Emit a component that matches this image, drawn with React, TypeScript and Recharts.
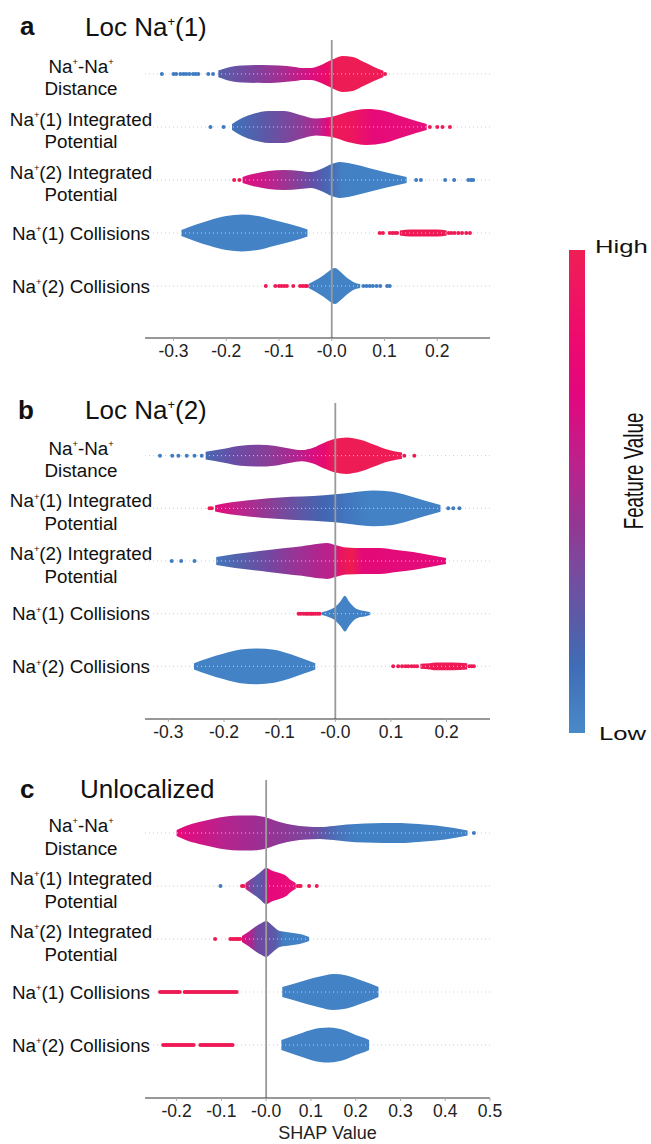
import React from "react";
import { ComposedChart, Area, Scatter, XAxis, YAxis, ReferenceLine } from "recharts";

// ---------- data ----------
const FEATURE_LABELS = [
  "Na⁺-Na⁺\nDistance",
  "Na⁺(1) Integrated\nPotential",
  "Na⁺(2) Integrated\nPotential",
  "Na⁺(1) Collisions",
  "Na⁺(2) Collisions",
];
const ROWS = [0, 1, 2, 3, 4];

const aTicks = [-0.3, -0.2, -0.1, 0, 0.1, 0.2];
const aTickLabels = ["-0.3", "-0.2", "-0.1", "-0.0", "0.1", "0.2"];
const bTicks = [-0.3, -0.2, -0.1, 0, 0.1, 0.2];
const bTickLabels = ["-0.3", "-0.2", "-0.1", "-0.0", "0.1", "0.2"];
const cTicks = [-0.2, -0.1, 0, 0.1, 0.2, 0.3, 0.4, 0.5];
const cTickLabels = ["-0.2", "-0.1", "-0.0", "0.1", "0.2", "0.3", "0.4", "0.5"];
const X_LABEL = "SHAP Value";

// violin shapes: [shap value, relative density]
const a1Shape = [[-0.215,0.19],[-0.2,0.33],[-0.17,0.47],[-0.13,0.5],[-0.1,0.47],[-0.07,0.39],[-0.055,0.33],[-0.04,0.33],[-0.02,0.5],[0,0.78],[0.02,1.0],[0.04,0.94],[0.06,0.67],[0.08,0.39],[0.098,0.17]];
const a1Colors = [[-0.215,"#5560AA"],[-0.15,"#7A449E"],[-0.09,"#A82C90"],[-0.04,"#D81080"],[-0.01,"#EA0C68"],[0.01,"#EE1C55"],[0.098,"#EE1C55"]];
const a2Shape = [[-0.189,0.17],[-0.17,0.5],[-0.15,0.72],[-0.12,0.89],[-0.09,0.89],[-0.06,0.67],[-0.03,0.47],[0,0.56],[0.03,0.83],[0.066,1.0],[0.1,0.89],[0.13,0.61],[0.16,0.33],[0.18,0.17]];
const a2Colors = [[-0.189,"#3F72BA"],[-0.13,"#5A5AA8"],[-0.06,"#8A3E98"],[-0.025,"#B42690"],[-0.01,"#DD0C7E"],[0.005,"#EE1A58"],[0.04,"#EC1560"],[0.08,"#E60A78"],[0.18,"#E6107A"]];
const a3Shape = [[-0.169,0.17],[-0.15,0.33],[-0.12,0.5],[-0.09,0.56],[-0.06,0.5],[-0.04,0.44],[-0.02,0.61],[0,0.89],[0.015,1.0],[0.04,0.89],[0.07,0.67],[0.1,0.44],[0.125,0.28],[0.142,0.17]];
const a3Colors = [[-0.169,"#E00E7E"],[-0.12,"#C0208A"],[-0.07,"#8A3E98"],[-0.035,"#6050A8"],[-0.01,"#4A66B2"],[0.02,"#4280C4"],[0.142,"#4283C6"]];
const a4Shape = [[-0.285,0.17],[-0.26,0.44],[-0.23,0.72],[-0.2,0.94],[-0.17,1.02],[-0.14,0.94],[-0.11,0.72],[-0.08,0.5],[-0.06,0.33],[-0.046,0.2]];
const a4BandShape = [[0.129,0.14],[0.15,0.2],[0.2,0.2],[0.218,0.14]];
const a5Shape = [[-0.044,0.11],[-0.03,0.33],[-0.015,0.61],[-0.005,0.83],[0.006,1.0],[0.015,0.83],[0.025,0.56],[0.035,0.33],[0.045,0.17],[0.054,0.11]];

const b1Shape = [[-0.233,0.22],[-0.2,0.39],[-0.17,0.56],[-0.137,0.61],[-0.11,0.56],[-0.08,0.39],[-0.06,0.31],[-0.04,0.44],[-0.02,0.72],[0,0.94],[0.02,1.02],[0.045,0.89],[0.07,0.61],[0.095,0.33],[0.12,0.17]];
const b1Colors = [[-0.233,"#4A68B2"],[-0.18,"#6A4CA4"],[-0.12,"#8A3E98"],[-0.07,"#B0248E"],[-0.04,"#D8107E"],[-0.02,"#E60C70"],[0,"#EE1C55"],[0.12,"#EE1C55"]];
const b2Shape = [[-0.216,0.17],[-0.19,0.33],[-0.16,0.44],[-0.12,0.56],[-0.08,0.64],[-0.04,0.69],[0,0.78],[0.03,0.89],[0.068,1.0],[0.1,0.94],[0.13,0.72],[0.16,0.44],[0.189,0.19]];
const b2Colors = [[-0.216,"#E50A78"],[-0.18,"#C52088"],[-0.12,"#8E3C95"],[-0.06,"#5C58A6"],[-0.02,"#4266B2"],[0.02,"#4276BE"],[0.06,"#4282C5"],[0.189,"#4282C5"]];
const b3Shape = [[-0.214,0.22],[-0.18,0.39],[-0.15,0.5],[-0.12,0.61],[-0.09,0.72],[-0.06,0.83],[-0.03,0.97],[-0.015,1.0],[0,0.89],[0.02,0.75],[0.05,0.72],[0.08,0.72],[0.11,0.61],[0.14,0.5],[0.17,0.33],[0.199,0.17]];
const b3Colors = [[-0.214,"#4576BC"],[-0.17,"#5560AA"],[-0.12,"#7248A0"],[-0.07,"#9A3396"],[-0.03,"#B0268E"],[0,"#C41E88"],[0.008,"#E81463"],[0.03,"#EE1C50"],[0.048,"#E30A78"],[0.199,"#E30A7B"]];
const b4Shape = [[-0.024,0.08],[-0.01,0.22],[0,0.39],[0.01,0.72],[0.017,1.0],[0.025,0.67],[0.035,0.33],[0.045,0.19],[0.055,0.14],[0.063,0.08]];
const b5Shape = [[-0.254,0.17],[-0.23,0.44],[-0.2,0.72],[-0.17,0.94],[-0.14,1.0],[-0.11,0.92],[-0.08,0.67],[-0.055,0.39],[-0.036,0.17]];
const b5BandShape = [[0.153,0.14],[0.17,0.17],[0.18,0.22],[0.21,0.22],[0.237,0.17]];

const c1Shape = [[-0.2,0.17],[-0.18,0.39],[-0.15,0.61],[-0.12,0.78],[-0.09,0.92],[-0.06,0.97],[-0.03,0.97],[0,0.86],[0.03,0.61],[0.06,0.44],[0.09,0.36],[0.12,0.33],[0.15,0.39],[0.18,0.47],[0.22,0.53],[0.26,0.56],[0.3,0.56],[0.34,0.5],[0.38,0.42],[0.42,0.28],[0.45,0.14]];
const c1Colors = [[-0.2,"#E8087A"],[-0.15,"#CF1585"],[-0.09,"#B4248E"],[-0.03,"#A02C92"],[0.05,"#8A3C98"],[0.1,"#7A489F"],[0.13,"#5A5CAA"],[0.16,"#4A72BA"],[0.2,"#4280C4"],[0.45,"#4282C5"]];
const c2Shape = [[-0.046,0.17],[-0.03,0.44],[-0.015,0.72],[0,1.0],[0.015,0.83],[0.03,0.72],[0.045,0.56],[0.055,0.33],[0.066,0.17]];
const c2Colors = [[-0.046,"#D01880"],[-0.035,"#7A48A0"],[-0.02,"#5A5AAA"],[-0.005,"#6A4EA4"],[0.003,"#D8127E"],[0.01,"#E6087A"],[0.066,"#E8107A"]];
const c3Shape = [[-0.054,0.17],[-0.04,0.39],[-0.025,0.67],[-0.01,0.89],[0,1.0],[0.01,0.83],[0.02,0.61],[0.03,0.44],[0.045,0.39],[0.06,0.33],[0.075,0.28],[0.09,0.17],[0.096,0.11]];
const c3Colors = [[-0.054,"#E00A7E"],[-0.035,"#B0248E"],[-0.02,"#7048A0"],[0,"#6A4EA4"],[0.02,"#5A5AA8"],[0.04,"#4280C4"],[0.096,"#4282C5"]];
const c4Shape = [[0.036,0.28],[0.06,0.44],[0.09,0.67],[0.12,0.86],[0.15,1.0],[0.18,0.92],[0.21,0.67],[0.235,0.44],[0.251,0.28]];
const c5Shape = [[0.034,0.28],[0.06,0.5],[0.08,0.67],[0.1,0.83],[0.12,0.94],[0.14,0.97],[0.16,0.92],[0.18,0.78],[0.2,0.56],[0.22,0.39],[0.23,0.28]];

// outlying points: [row, shap value]
const aDotsLow = [[0,-0.322],[0,-0.3],[0,-0.295],[0,-0.287],[0,-0.281],[0,-0.276],[0,-0.27],[0,-0.263],[0,-0.258],[0,-0.253],[0,-0.234],[0,-0.225],[1,-0.23],[1,-0.205],[2,0.16],[2,0.169],[2,0.215],[2,0.232],[2,0.259],[2,0.264],[2,0.268],[4,0.06],[4,0.066],[4,0.072],[4,0.078],[4,0.085],[4,0.092],[4,0.105],[4,0.11]];
const aDotsHigh = [[0,0.101],[1,0.186],[1,0.2],[1,0.21],[1,0.224],[2,-0.185],[2,-0.175],[3,0.091],[3,0.097],[3,0.11],[3,0.115],[3,0.12],[3,0.124],[3,0.222],[3,0.227],[3,0.233],[3,0.24],[3,0.247],[3,0.255],[3,0.262],[4,-0.125],[4,-0.107],[4,-0.1],[4,-0.095],[4,-0.09],[4,-0.085],[4,-0.073],[4,-0.06],[4,-0.055],[4,-0.05],[4,-0.047]];
const bDotsLow = [[0,-0.315],[0,-0.293],[0,-0.282],[0,-0.267],[0,-0.253],[0,-0.24],[1,0.203],[1,0.212],[1,0.223],[2,-0.294],[2,-0.277],[2,-0.253]];
const bDotsHigh = [[0,0.124],[0,0.142],[1,-0.226],[1,-0.222],[3,-0.066],[3,-0.062],[3,-0.057],[3,-0.053],[3,-0.05],[3,-0.046],[3,-0.043],[3,-0.04],[3,-0.036],[3,-0.032],[3,-0.028],[4,0.104],[4,0.113],[4,0.12],[4,0.126],[4,0.131],[4,0.137],[4,0.142],[4,0.147],[4,0.241],[4,0.245],[4,0.249]];
const cDotsLow = [[0,0.464],[1,-0.102]];
const cDotsHigh = [[1,-0.054],[1,-0.05],[1,0.07],[1,0.074],[1,0.077],[1,0.096],[1,0.113],[2,-0.114],[2,-0.08],[2,-0.075],[2,-0.07],[2,-0.066],[2,-0.062],[2,-0.058],
  [3,-0.237],[3,-0.233],[3,-0.229],[3,-0.225],[3,-0.221],[3,-0.217],[3,-0.213],[3,-0.209],[3,-0.205],[3,-0.201],[3,-0.197],[3,-0.193],[3,-0.182],[3,-0.178],[3,-0.174],[3,-0.17],[3,-0.166],[3,-0.162],[3,-0.158],[3,-0.154],[3,-0.15],[3,-0.146],[3,-0.142],[3,-0.138],[3,-0.134],[3,-0.13],[3,-0.126],[3,-0.122],[3,-0.118],[3,-0.114],[3,-0.11],[3,-0.106],[3,-0.102],[3,-0.098],[3,-0.094],[3,-0.09],[3,-0.086],[3,-0.082],[3,-0.078],[3,-0.074],[3,-0.07],[3,-0.066],
  [4,-0.23],[4,-0.226],[4,-0.222],[4,-0.218],[4,-0.214],[4,-0.21],[4,-0.206],[4,-0.202],[4,-0.198],[4,-0.194],[4,-0.19],[4,-0.186],[4,-0.182],[4,-0.178],[4,-0.174],[4,-0.17],[4,-0.166],[4,-0.162],[4,-0.147],[4,-0.143],[4,-0.139],[4,-0.135],[4,-0.131],[4,-0.127],[4,-0.123],[4,-0.119],[4,-0.115],[4,-0.111],[4,-0.107],[4,-0.103],[4,-0.099],[4,-0.095],[4,-0.091],[4,-0.087],[4,-0.083],[4,-0.079],[4,-0.075]];

const colorbarStops = [[0,"#EF1F55"],[0.18,"#EE0A6E"],[0.3,"#E2077E"],[0.45,"#BA238D"],[0.56,"#963593"],[0.66,"#7A4A9E"],[0.76,"#5C5AA6"],[0.86,"#3F6CB6"],[1,"#4A8AC8"]];

// ---------- styling ----------
const FONT = "'Liberation Sans', Arial, Helvetica, sans-serif";
const LOW = "#3F7CC2";
const HIGH = "#EE1A55";
const HALF = 0.34; // row units per unit of density
const LABEL_CX = 81;

const violin = (row: number, shape: number[][], colors: any[] | string) => ({ row, shape, colors });

const aViolins = [violin(0,a1Shape,a1Colors),violin(1,a2Shape,a2Colors),violin(2,a3Shape,a3Colors),violin(3,a4Shape,"#4282C5"),violin(3,a4BandShape,HIGH),violin(4,a5Shape,"#4282C5")];
const bViolins = [violin(0,b1Shape,b1Colors),violin(1,b2Shape,b2Colors),violin(2,b3Shape,b3Colors),violin(3,b4Shape,"#4282C5"),violin(4,b5Shape,"#4282C5"),violin(4,b5BandShape,HIGH)];
const cViolins = [violin(0,c1Shape,c1Colors),violin(1,c2Shape,c2Colors),violin(2,c3Shape,c3Colors),violin(3,c4Shape,"#4282C5"),violin(4,c5Shape,"#4282C5")];

function rich(s: string, fs: number) {
  const parts = s.split("⁺");
  const sh = fs * 0.4;
  const out: any[] = [];
  parts.forEach((p, i) => {
    if (i === 0) { out.push(<tspan key={"p" + i}>{p}</tspan>); return; }
    out.push(<tspan key={"s" + i} dy={-sh} fontSize={fs * 0.5}>+</tspan>);
    out.push(<tspan key={"p" + i} dy={sh}>{p}</tspan>);
  });
  return out;
}

const FS_LABEL = 18.8;
function FeatureTick(props: any) {
  const { y, payload } = props;
  const lines = FEATURE_LABELS[payload.value].split("\n");
  const common = { x: LABEL_CX, textAnchor: "middle" as const, fontSize: FS_LABEL, fontFamily: FONT, fill: "#111" };
  if (lines.length === 1) {
    return <text {...common} y={y + 6.8}>{rich(lines[0], FS_LABEL)}</text>;
  }
  return (
    <g>
      <text {...common} y={y - 1}>{rich(lines[0], FS_LABEL)}</text>
      <text {...common} y={y + 21.5}>{rich(lines[1], FS_LABEL)}</text>
    </g>
  );
}

function dotShape(color: string) {
  return (p: any) => <circle cx={p.cx} cy={p.cy} r={2} fill={color} />;
}

function Panel(props: any) {
  const { id, top, height, marginTop, xDomain, ticks, tickLabels, yDomain, violins, dotsLow, dotsHigh, axisHeight, xLabel } = props;
  return (
    <div style={{ position: "absolute", left: 0, top }}>
      <ComposedChart width={530} height={height} margin={{ top: marginTop, right: 40, bottom: 0, left: 0 }}>
        <defs>
          {violins.map((v: any, i: number) => {
            const x0 = v.shape[0][0];
            const x1 = v.shape[v.shape.length - 1][0];
            const stops = typeof v.colors === "string" ? [[x0, v.colors], [x1, v.colors]] : v.colors;
            return (
              <linearGradient key={i} id={`${id}-g${i}`} x1="0" y1="0" x2="1" y2="0">
                {stops.map((s: any, j: number) => (
                  <stop key={j} offset={Math.max(0, Math.min(1, (s[0] - x0) / (x1 - x0)))} stopColor={s[1]} />
                ))}
              </linearGradient>
            );
          })}
        </defs>
        <XAxis
          type="number"
          dataKey="x"
          domain={xDomain}
          allowDataOverflow
          ticks={ticks}
          interval={0}
          tickFormatter={(v: number) => tickLabels[ticks.indexOf(v)]}
          height={axisHeight}
          tickSize={3}
          tickMargin={4}
          axisLine={{ stroke: "#333", strokeWidth: 1.2 }}
          tickLine={{ stroke: "#aaa" }}
          tick={{ fontSize: 17.5, fill: "#222", fontFamily: FONT }}
          label={xLabel ? {
            content: (lp: any) => {
              const vb = lp.viewBox || {};
              return (
                <text x={vb.x + vb.width / 2 + 10} y={vb.y + 41} textAnchor="middle" fontSize={18} fill="#222" fontFamily={FONT}>{xLabel}</text>
              );
            },
          } : undefined}
        />
        <YAxis
          type="number"
          dataKey="y"
          domain={yDomain}
          allowDataOverflow
          reversed
          ticks={ROWS}
          interval={0}
          width={145}
          axisLine={false}
          tickLine={false}
          tick={(p: any) => <FeatureTick {...p} />}
        />
        {ROWS.map((r) => (
          <ReferenceLine key={"g" + r} y={r} stroke="#cfcfcf" strokeDasharray="1 3" strokeWidth={1} />
        ))}
        {violins.map((v: any, i: number) => (
          <Area
            key={"v" + i}
            data={v.shape.map((p: number[]) => ({ x: p[0], range: [v.row - p[1] * HALF, v.row + p[1] * HALF] }))}
            dataKey="range"
            type="monotone"
            stroke="none"
            fill={`url(#${id}-g${i})`}
            fillOpacity={1}
            dot={false}
            activeDot={false}
            isAnimationActive={false}
          />
        ))}
        <Scatter data={dotsLow.map((d: number[]) => ({ x: d[1], y: d[0] }))} shape={dotShape(LOW)} isAnimationActive={false} />
        <Scatter data={dotsHigh.map((d: number[]) => ({ x: d[1], y: d[0] }))} shape={dotShape(HIGH)} isAnimationActive={false} />
        <ReferenceLine x={0} stroke="#9a9a9a" strokeWidth={1.8} />
      </ComposedChart>
    </div>
  );
}

function Titles() {
  const t = { fontFamily: FONT, fontSize: 26, fill: "#111" };
  return (
    <svg width={651} height={1144} style={{ position: "absolute", left: 0, top: 0 }}>
      <text {...t} x={20} y={35} fontWeight="bold">a</text>
      <text {...t} x={85} y={36}>{rich("Loc Na⁺(1)", 26)}</text>
      <text {...t} x={18} y={419} fontWeight="bold">b</text>
      <text {...t} x={85} y={419}>{rich("Loc Na⁺(2)", 26)}</text>
      <text {...t} x={20} y={798} fontWeight="bold">c</text>
      <text {...t} x={80} y={798}>Unlocalized</text>
      <defs>
        <linearGradient id="cbar" x1="0" y1="0" x2="0" y2="1">
          {colorbarStops.map((s: any, i) => <stop key={i} offset={s[0]} stopColor={s[1]} />)}
        </linearGradient>
      </defs>
      <rect x={569} y={250} width={16} height={483} fill="url(#cbar)" />
      <text transform="translate(595,253) scale(1.38,1)" fontFamily={FONT} fontSize={18.6} fill="#111">High</text>
      <text transform="translate(599,740) scale(1.38,1)" fontFamily={FONT} fontSize={18.6} fill="#111">Low</text>
      <g transform="translate(634,471) scale(1.45,1) rotate(-90)">
        <text textAnchor="middle" dominantBaseline="central" fontFamily={FONT} fontSize={18.8} fill="#111">Feature Value</text>
      </g>
    </svg>
  );
}

export default function App() {
  return (
    <div style={{ position: "absolute", left: 0, top: 0, width: 651, height: 1144, background: "#fff", overflow: "hidden" }}>
      <Titles />
      <Panel id="pa" top={0} height={370} marginTop={40} xDomain={[-0.354, 0.3]} ticks={aTicks} tickLabels={aTickLabels}
        yDomain={[-0.64, 4.98]} violins={aViolins} dotsLow={aDotsLow} dotsHigh={aDotsHigh} axisHeight={32} />
      <Panel id="pb" top={380} height={371} marginTop={23} xDomain={[-0.342, 0.278]} ticks={bTicks} tickLabels={bTickLabels}
        yDomain={[-1, 5]} violins={bViolins} dotsLow={bDotsLow} dotsHigh={bDotsHigh} axisHeight={32} />
      <Panel id="pc" top={760} height={384} marginTop={20} xDomain={[-0.2706, 0.5]} ticks={cTicks} tickLabels={cTickLabels}
        yDomain={[-1, 5]} violins={cViolins} dotsLow={cDotsLow} dotsHigh={cDotsHigh} axisHeight={46} xLabel={X_LABEL} />
    </div>
  );
}
